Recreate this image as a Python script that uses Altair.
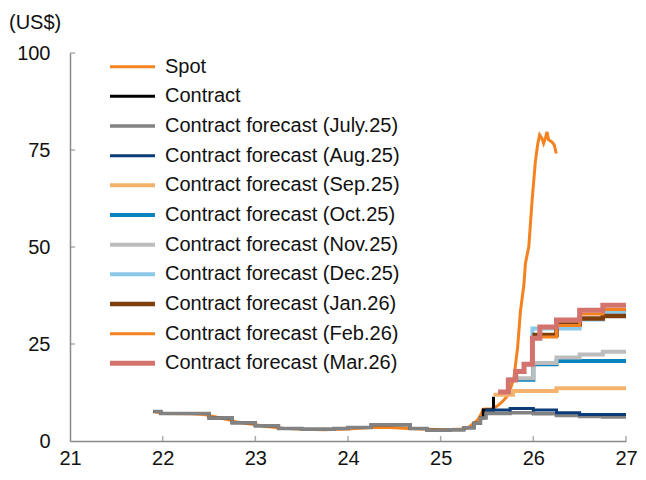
import altair as alt
import pandas as pd

# ---------------- data ----------------
series_names = [
    "Spot",
    "Contract",
    "Contract forecast (July.25)",
    "Contract forecast (Aug.25)",
    "Contract forecast (Sep.25)",
    "Contract forecast (Oct.25)",
    "Contract forecast (Nov.25)",
    "Contract forecast (Dec.25)",
    "Contract forecast (Jan.26)",
    "Contract forecast (Feb.26)",
    "Contract forecast (Mar.26)",
]
series_colors = ["#F58220", "#000000", "#828282", "#0B3C78", "#F4B36C", "#0A82BE",
                 "#BDBDBD", "#8CC8E8", "#7F3F0C", "#F58220", "#D4736E"]
series_widths = [3, 3, 3.5, 3, 4, 4, 4, 4, 4.5, 3, 5]

hist_x = [21.90, 21.98, 22.50, 22.75, 23.00, 23.25, 23.50, 23.75, 23.85, 24.00,
          24.25, 24.67, 24.85, 25.10, 25.25, 25.36, 25.43]
hist_y = [7.6, 7.1, 5.9, 4.7, 3.9, 3.2, 3.0, 3.0, 3.2, 3.5,
          4.2, 3.2, 2.8, 2.9, 3.4, 4.6, 5.9]

spot_x = [21.90, 22.00, 22.30, 22.45, 22.55, 22.70, 22.80, 22.95, 23.10, 23.30,
          23.50, 23.75, 24.00, 24.25, 24.45, 24.65, 24.85, 25.05, 25.22, 25.30,
          25.40, 25.44, 25.46, 25.55, 25.61, 25.66, 25.71, 25.755, 25.79, 25.83,
          25.861, 25.897, 25.915, 25.951, 25.987, 26.022, 26.047, 26.068, 26.093,
          26.111, 26.130, 26.147, 26.165, 26.200, 26.226, 26.247]
spot_y = [7.6, 7.1, 7.0, 6.8, 6.3, 5.5, 4.9, 4.4, 3.8, 3.3,
          3.0, 2.9, 3.1, 3.5, 3.5, 3.2, 3.0, 2.9, 3.1, 3.5,
          5.4, 7.1, 8.2, 8.3, 9.0, 10.0, 11.3, 13.7, 16.2, 24.0,
          33.5, 40.0, 45.8, 50.1, 62.1, 72.0, 76.5, 78.9, 78.0,
          76.7, 78.0, 79.7, 77.6, 77.1, 76.3, 74.1]

contract_x = hist_x + [25.46, 25.57]
contract_y = hist_y + [8.0, 11.4]

jul_x = hist_x + [25.49, 25.75, 26.00, 26.25, 26.50, 26.75, 27.00]
jul_y = hist_y + [7.1, 7.3, 7.0, 6.6, 6.3, 6.2, 6.2]

aug_x = [25.48, 25.75, 26.00, 26.25, 26.50, 27.00]
aug_y = [8.0, 8.4, 8.0, 7.3, 6.8, 6.8]

sep_x = [25.57, 25.78, 26.25, 27.00]
sep_y = [11.9, 12.9, 13.6, 13.6]

oct_x = [25.72, 26.00, 26.25, 27.00]
oct_y = [15.8, 19.8, 20.6, 20.6]

nov_x = [25.82, 26.00, 26.25, 26.50, 26.75, 27.00]
nov_y = [16.2, 20.1, 21.5, 22.3, 23.0, 23.0]

dec_x = [25.96, 25.99, 26.50, 26.75, 27.00]
dec_y = [20.3, 29.0, 31.3, 33.1, 33.1]

jan_x = [25.99, 26.25, 26.50, 26.75, 27.00]
jan_y = [27.3, 30.0, 31.6, 32.2, 32.2]

feb_x = [26.04, 26.25, 26.50, 26.75, 27.00]
feb_y = [26.8, 29.8, 32.7, 33.9, 33.9]

mar_x = [25.62, 25.73, 25.81, 25.90, 25.99, 26.07, 26.25, 26.50, 26.75, 27.00]
mar_y = [12.6, 15.7, 17.9, 19.8, 26.5, 29.4, 31.2, 33.7, 35.0, 35.0]

x_tick_values = [21, 22, 23, 24, 25, 26, 27]
y_tick_values = [0, 25, 50, 75, 100]

series_points = [
    (spot_x, spot_y), (contract_x, contract_y), (jul_x, jul_y), (aug_x, aug_y),
    (sep_x, sep_y), (oct_x, oct_y), (nov_x, nov_y), (dec_x, dec_y),
    (jan_x, jan_y), (feb_x, feb_y), (mar_x, mar_y),
]

rows = []
for name, (xs, ys) in zip(series_names, series_points):
    for xv, yv in zip(xs, ys):
        rows.append({"series": name, "year": xv, "value": yv})
df = pd.DataFrame(rows)

# ---------------- chart ----------------
FONT = "Liberation Sans"
AXIS_COLOR = "#8a8a8a"

x_enc = alt.X(
    "year:Q",
    scale=alt.Scale(domain=[21, 27], nice=False, zero=False),
    axis=alt.Axis(values=x_tick_values, format="d", tickSize=0, labelPadding=7,
                  grid=False, title=None, domainColor=AXIS_COLOR, domainWidth=1.5,
                  labelFontSize=20, labelColor="#111111", labelFont=FONT,
                  labelFlush=False),
)
y_enc = alt.Y(
    "value:Q",
    scale=alt.Scale(domain=[0, 100], nice=False),
    axis=alt.Axis(values=y_tick_values, format="d", tickSize=0, labelPadding=20,
                  grid=False, domainColor=AXIS_COLOR, domainWidth=1.5,
                  labelFontSize=20, labelColor="#111111", labelFont=FONT,
                  title="(US$)", titleAngle=0, titleX=-61.5, titleY=-31,
                  titleAlign="left", titleBaseline="middle", titleFontSize=20,
                  titleFontWeight="normal", titleFont=FONT, titleColor="#111111"),
)

legend = alt.Legend(
    title=None, orient="none", legendX=52.5, legendY=3.7,
    symbolType="M-3.214,0L3.214,0", symbolSize=196,
    labelFontSize=20, labelFont=FONT, labelColor="#111111",
    labelOffset=22.5, rowPadding=9.66, padding=0, labelLimit=400,
)

color_enc = alt.Color("series:N", scale=alt.Scale(domain=series_names, range=series_colors),
                      legend=legend)
width_enc = alt.StrokeWidth("series:N",
                            scale=alt.Scale(type="ordinal", domain=series_names, range=series_widths),
                            legend=legend)

base = alt.Chart(df)
layers = []
for name in series_names:
    interp = "linear" if name == "Spot" else "step-after"
    layers.append(
        base.mark_line(interpolate=interp)
        .encode(x=x_enc, y=y_enc, color=color_enc, strokeWidth=width_enc)
        .transform_filter(alt.datum.series == name)
    )

xt_df = pd.DataFrame({"year": x_tick_values[1:]})
yt_df = pd.DataFrame({"value": y_tick_values[1:]})
x_ticks = alt.Chart(xt_df).mark_tick(orient="vertical", size=5, thickness=1.5,
                                     yOffset=-2.5, color=AXIS_COLOR).encode(
    x=alt.X("year:Q"), y=alt.datum(0))
y_ticks = alt.Chart(yt_df).mark_tick(orient="horizontal", size=5, thickness=1.5,
                                     xOffset=2.5, color=AXIS_COLOR).encode(
    x=alt.datum(21), y=alt.Y("value:Q"))

chart = alt.layer(*layers, x_ticks, y_ticks).properties(
    width=556, height=388,
    autosize=alt.AutoSizeParams(type="none"),
    padding={"left": 62, "top": 45, "right": 12, "bottom": 31},
    background="white",
).configure_view(stroke=None)

chart.save("out.html", embed_options={"renderer": "svg", "actions": False})
